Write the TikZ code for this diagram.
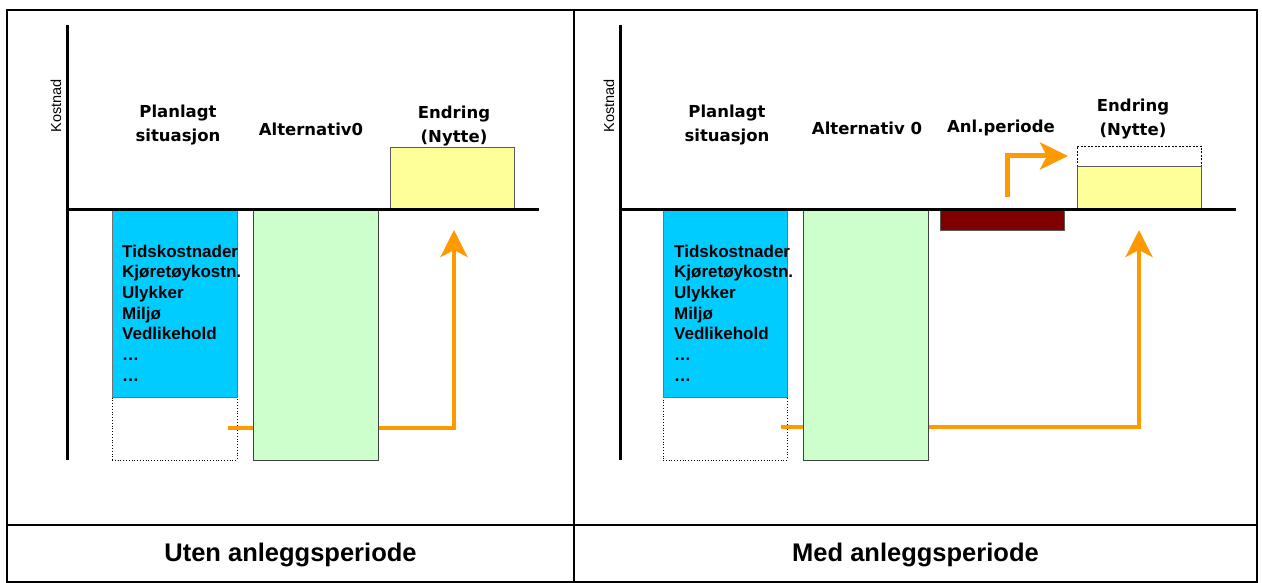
\documentclass[tikz,border=0pt]{standalone}
\usepackage{fontspec}
\setmainfont{Liberation Sans}
\newfontfamily\hdrfont{DejaVu Sans}
\usetikzlibrary{arrows.meta}
\definecolor{cblue}{HTML}{00CCFF}
\definecolor{cgreen}{HTML}{CCFFCC}
\definecolor{cyellow}{HTML}{FFFF99}
\definecolor{cred}{HTML}{800000}
\definecolor{corange}{HTML}{FF9900}
\begin{document}
\begin{tikzpicture}[x=1pt,y=-1pt,
  frame/.style={line width=2pt,black},
  axis/.style={line width=3pt,black},
  bar/.style={draw,line width=0.8pt,inner sep=0pt,outer sep=0pt,anchor=north west},
  bluebar/.style={bar,fill=cblue,draw=black!55},
  greenbar/.style={bar,fill=cgreen,draw=black!75},
  yellowbar/.style={bar,fill=cyellow,draw=black!65},
  redbar/.style={bar,fill=cred,draw=black!65},
  dotbar/.style={bar,dotted,draw=black},
  dashbar/.style={bar,dash pattern=on 2pt off 1.5pt,draw=black},
  hdr/.style={font=\hdrfont\bfseries\fontsize{16.5}{24}\selectfont,align=center,inner sep=0pt},
  listtxt/.style={font=\bfseries\fontsize{17}{20}\selectfont,anchor=base west,inner sep=0pt},
  ylab/.style={font=\fontsize{14.5}{16}\selectfont,rotate=90,inner sep=0pt},
  foot/.style={font=\bfseries\fontsize{25.5}{28}\selectfont,inner sep=0pt},
  flow/.style={draw=corange,line width=4pt,-{Stealth[length=27pt,width=27pt,inset=7pt]}},
  smallflow/.style={draw=corange,line width=5pt,-{Stealth[length=28pt,width=27pt,inset=7pt]}}
]
\useasboundingbox (0,0) rectangle (1262,583);
% table frame
\draw[frame] (7,10) rectangle (1257,582);
\draw[frame] (574,10) -- (574,582);
\draw[frame] (7,525) -- (1257,525);

% ---------- left panel ----------
\node[dotbar,minimum width=125pt,minimum height=63pt] (Ldot) at (112,397) {};
\coordinate (Ls) at (228,428);
\coordinate (Lt) at (454,230);
\draw[flow] (Ls) -| (Lt);
\node[yellowbar,minimum width=124pt,minimum height=63pt] (Lyellow) at (390,147) {};
\node[bluebar,minimum width=125pt,minimum height=187pt] (Lblue) at (112,210) {};
\node[greenbar,minimum width=125pt,minimum height=250pt] (Lgreen) at (253,210) {};
\draw[axis] (67,25) coordinate (Lytop) -- (67,460) coordinate (Lybot);
\draw[axis] (67,210) coordinate (Lx0) -- (539,210) coordinate (Lx1);
\node[ylab] (Lkost) at (56,106) {Kostnad};
\node[hdr] (Lh1) at (178,125) {Planlagt\\situasjon};
\node[hdr] (Lh2) at (311,129) {Alternativ0};
\node[hdr] (Lh3) at (454,126) {Endring\\(Nytte)};
\foreach \t [count=\i] in {Tidskostnader,Kjøretøykostn.,Ulykker,Miljø,Vedlikehold,…,…}
  \node[listtxt] (Ll\i) at (122,{257+20.7*(\i-1)}) {\t};

% ---------- right panel ----------
\node[dotbar,minimum width=124pt,minimum height=63pt] (Rdot) at (663,397) {};
\coordinate (Rs) at (781,427);
\coordinate (Rt) at (1139,230);
\draw[flow] (Rs) -| (Rt);
\node[dashbar,minimum width=124pt,minimum height=20pt] (Rdash) at (1077,146) {};
\node[yellowbar,minimum width=124pt,minimum height=44pt] (Ryellow) at (1077,166) {};
\node[redbar,minimum width=124pt,minimum height=20pt] (Rred) at (940,210) {};
\node[bluebar,minimum width=124pt,minimum height=187pt] (Rblue) at (663,210) {};
\node[greenbar,minimum width=125pt,minimum height=250pt] (Rgreen) at (803,210) {};
\coordinate (Rss) at (1007,197);
\coordinate (Rst) at (1068,156);
\draw[smallflow] (Rss) |- (Rst);
\draw[axis] (620,25) coordinate (Rytop) -- (620,460) coordinate (Rybot);
\draw[axis] (620,210) coordinate (Rx0) -- (1236,210) coordinate (Rx1);
\node[ylab] (Rkost) at (609,106) {Kostnad};
\node[hdr] (Rh1) at (727,125) {Planlagt\\situasjon};
\node[hdr] (Rh2) at (867,128) {Alternativ 0};
\node[hdr] (Rh3) at (1001,128) {Anl.periode};
\node[hdr] (Rh4) at (1133,119) {Endring\\(Nytte)};
\foreach \t [count=\i] in {Tidskostnader,Kjøretøykostn.,Ulykker,Miljø,Vedlikehold,…,…}
  \node[listtxt] (Rl\i) at (674,{257+20.7*(\i-1)}) {\t};

% ---------- footer ----------
\node[foot] (Lfoot) at (290.5,555) {Uten anleggsperiode};
\node[foot] (Rfoot) at (915.5,555) {Med anleggsperiode};
\end{tikzpicture}
\end{document}
